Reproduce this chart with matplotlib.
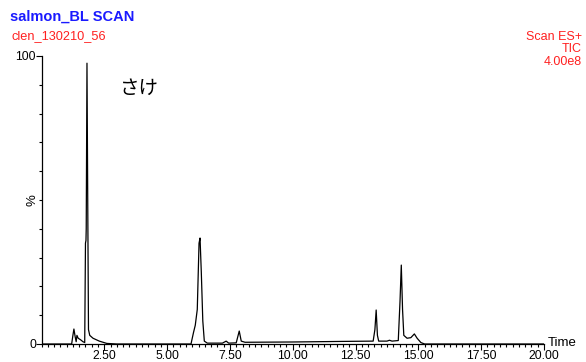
import matplotlib
matplotlib.use('Agg')
import matplotlib.pyplot as plt
from matplotlib.ticker import MultipleLocator

plt.rcParams['font.family'] = ['Liberation Sans', 'Noto Sans CJK JP', 'DejaVu Sans']

# chromatogram trace (time in min, relative intensity %)
times = [0.00, 1.20, 1.25, 1.29, 1.34, 1.38, 1.41, 1.46, 1.55, 1.65, 1.72,
         1.75, 1.77, 1.78, 1.81, 1.84, 1.87, 1.92, 2.05, 2.30, 2.60, 3.00,
         5.95, 6.05, 6.12, 6.20, 6.27, 6.31, 6.36, 6.42, 6.48, 6.60,
         7.20, 7.35, 7.45, 7.75, 7.87, 7.95, 8.10, 10.00, 12.00,
         13.20, 13.27, 13.32, 13.37, 13.42, 13.75, 13.85, 13.95,
         14.20, 14.27, 14.32, 14.37, 14.42, 14.55, 14.70, 14.84, 14.95,
         15.10, 15.25, 20.00]
intensity = [0.0, 0.0, 3.0, 5.2, 2.5, 0.8, 3.0, 2.0, 1.5, 0.8, 0.5,
             35.0, 36.0, 40.0, 97.5, 50.0, 5.0, 3.0, 2.0, 1.0, 0.2, 0.0,
             0.0, 4.0, 6.5, 12.0, 35.0, 36.8, 25.0, 8.0, 1.0, 0.3,
             0.3, 1.0, 0.3, 0.4, 4.5, 1.0, 0.6, 0.7, 0.9,
             1.0, 5.0, 11.8, 3.0, 1.0, 1.0, 1.3, 1.0,
             1.2, 15.0, 27.4, 12.0, 3.0, 2.0, 2.2, 3.5, 2.0,
             0.5, 0.0, 0.0]

x_ticks = [2.5, 5.0, 7.5, 10.0, 12.5, 15.0, 17.5, 20.0]
x_labels = ['2.50', '5.00', '7.50', '10.00', '12.50', '15.00', '17.50', '20.00']
y_ticks = [0, 100]
y_labels = ['0', '100']

W, H = 586, 362
fig = plt.figure(figsize=(W / 100, H / 100), dpi=100)
ax = fig.add_axes([41.5 / W, 18 / H, 502.5 / W, 288 / H])

ax.plot(times, intensity, color='black', lw=0.9)
ax.set_xlim(0, 20)
ax.set_ylim(0, 100)

for s in ['top', 'right']:
    ax.spines[s].set_visible(False)
ax.spines['left'].set_linewidth(0.9)
ax.spines['bottom'].set_linewidth(0.9)

ax.set_xticks(x_ticks)
ax.set_xticklabels(x_labels)
ax.xaxis.set_minor_locator(MultipleLocator(0.25))
ax.set_yticks(y_ticks)
ax.set_yticklabels(y_labels)
ax.yaxis.set_minor_locator(MultipleLocator(10))
ax.tick_params(axis='both', which='major', direction='out', length=4,
               width=0.8, labelsize=8.8, pad=0, colors='black')
ax.tick_params(axis='both', which='minor', direction='out', length=2.5,
               width=0.8)

fig.text(548 / W, 1 - 343 / H, 'Time', fontsize=9.5, va='center', ha='left')
fig.text(33 / W, 1 - 200 / H, '%', fontsize=9.5, va='center', ha='center',
         rotation=90)

fig.text(10 / W, 1 - 17 / H, 'salmon_BL SCAN', color='#1a1aff',
         fontsize=10.5, fontweight='bold', va='center', ha='left')
fig.text(12 / W, 1 - 36 / H, 'clen_130210_56', color='#ff2020',
         fontsize=9.2, va='center', ha='left')
fig.text(582 / W, 1 - 37 / H, 'Scan ES+', color='#ff2020',
         fontsize=9, va='center', ha='right')
fig.text(582 / W, 1 - 49 / H, 'TIC', color='#ff2020',
         fontsize=9, va='center', ha='right')
fig.text(582 / W, 1 - 62 / H, '4.00e8', color='#ff2020',
         fontsize=9, va='center', ha='right')

fig.text(120 / W, 1 - 88 / H, 'さけ', fontsize=14, va='center', ha='left',
         family=['Noto Sans CJK JP', 'DejaVu Sans'])

fig.savefig('out.png', dpi=100)
